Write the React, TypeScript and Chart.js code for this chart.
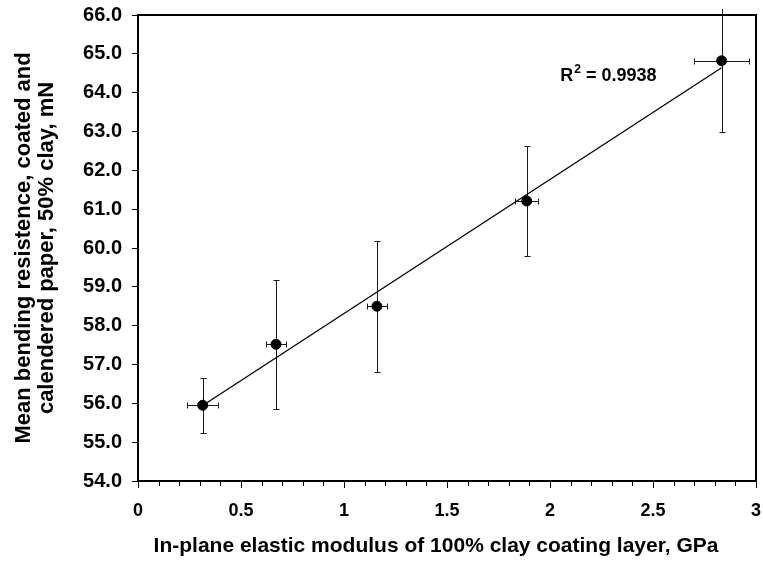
import React, { useEffect, useRef } from "react";
import { Chart, registerables } from "chart.js";

Chart.register(...registerables);

const modulusGPa = [0.314, 0.67, 1.16, 1.887, 2.833];
const bendingMN = [55.95, 57.52, 58.5, 61.21, 64.82];
const modulusErr = [0.075, 0.048, 0.049, 0.057, 0.135];
const bendingErr = [0.715, 1.66, 1.69, 1.42, 1.82];
const rSquaredLabel = "0.9938";
const rSquaredAnchor = { x: 2.05, y: 64.3 };
const xTitle = "In-plane elastic modulus of 100% clay coating layer, GPa";
const yTitle = ["Mean bending resistence, coated and", "calendered paper, 50% clay, mN"];

const FONT = "'Liberation Sans', Arial, Helvetica, sans-serif";

function linearFit(xs: number[], ys: number[]) {
  const n = xs.length;
  const mx = xs.reduce((a, b) => a + b, 0) / n;
  const my = ys.reduce((a, b) => a + b, 0) / n;
  let sxy = 0;
  let sxx = 0;
  for (let i = 0; i < n; i++) {
    sxy += (xs[i] - mx) * (ys[i] - my);
    sxx += (xs[i] - mx) * (xs[i] - mx);
  }
  const slope = sxy / sxx;
  return { slope, intercept: my - slope * mx };
}

const errorBarPlugin = {
  id: "errorBars",
  beforeDatasetsDraw(chart: any) {
    const { ctx, chartArea, scales } = chart;
    const xs = scales.x;
    const ys = scales.y;
    ctx.save();
    ctx.beginPath();
    ctx.rect(0, chartArea.top - 6, chart.width, chart.height);
    ctx.clip();
    ctx.strokeStyle = "#1a1a1a";
    ctx.lineWidth = 1;
    for (let i = 0; i < modulusGPa.length; i++) {
      const cx = Math.round(xs.getPixelForValue(modulusGPa[i])) + 0.5;
      const cy = Math.round(ys.getPixelForValue(bendingMN[i])) + 0.5;
      const yTop = Math.round(ys.getPixelForValue(bendingMN[i] + bendingErr[i])) + 0.5;
      const yBot = Math.round(ys.getPixelForValue(bendingMN[i] - bendingErr[i])) + 0.5;
      const xL = Math.round(xs.getPixelForValue(modulusGPa[i] - modulusErr[i])) + 0.5;
      const xR = Math.round(xs.getPixelForValue(modulusGPa[i] + modulusErr[i])) + 0.5;
      ctx.beginPath();
      ctx.moveTo(cx, yTop);
      ctx.lineTo(cx, yBot);
      ctx.moveTo(cx - 3, yTop);
      ctx.lineTo(cx + 3, yTop);
      ctx.moveTo(cx - 3, yBot);
      ctx.lineTo(cx + 3, yBot);
      ctx.moveTo(xL, cy);
      ctx.lineTo(xR, cy);
      ctx.moveTo(xL, cy - 3);
      ctx.lineTo(xL, cy + 3);
      ctx.moveTo(xR, cy - 3);
      ctx.lineTo(xR, cy + 3);
      ctx.stroke();
    }
    ctx.restore();
  },
  afterDraw(chart: any) {
    const { ctx, chartArea, scales } = chart;
    const xs = scales.x;
    ctx.save();
    // minor x ticks
    ctx.strokeStyle = "#000";
    ctx.lineWidth = 1;
    ctx.beginPath();
    for (let i = 0; i <= 30; i++) {
      if (i % 5 === 0) continue;
      const px = Math.round(xs.getPixelForValue(i / 10)) + 0.5;
      ctx.moveTo(px, chartArea.bottom);
      ctx.lineTo(px, chartArea.bottom + 5);
    }
    ctx.stroke();
    // top and right frame
    ctx.lineWidth = 2;
    ctx.beginPath();
    ctx.moveTo(chartArea.left, chartArea.top);
    ctx.lineTo(chartArea.right, chartArea.top);
    ctx.lineTo(chartArea.right, chartArea.bottom);
    ctx.stroke();
    // x axis title
    ctx.fillStyle = "#000";
    ctx.textAlign = "center";
    ctx.textBaseline = "middle";
    ctx.font = `bold 21px ${FONT}`;
    ctx.fillText(xTitle, (chartArea.left + chartArea.right) / 2 - 11, chartArea.bottom + 65);
    // R^2 annotation
    const ax = xs.getPixelForValue(rSquaredAnchor.x);
    const ay = scales.y.getPixelForValue(rSquaredAnchor.y);
    ctx.textBaseline = "alphabetic";
    ctx.textAlign = "left";
    ctx.font = `bold 18px ${FONT}`;
    ctx.fillText("R", ax, ay);
    const rw = ctx.measureText("R").width;
    ctx.font = `bold 12px ${FONT}`;
    ctx.fillText("2", ax + rw + 1, ay - 8);
    const sw = ctx.measureText("2").width;
    ctx.font = `bold 18px ${FONT}`;
    ctx.fillText(" = " + rSquaredLabel, ax + rw + 1 + sw, ay);
    ctx.restore();
  },
};

export default function App() {
  const ref = useRef<HTMLCanvasElement | null>(null);

  useEffect(() => {
    document.body.style.margin = "0";
    const canvas = ref.current;
    if (!canvas) return;
    const fit = linearFit(modulusGPa, bendingMN);
    const xMin = Math.min(...modulusGPa);
    const xMax = Math.max(...modulusGPa);
    const trend = [
      { x: xMin, y: fit.intercept + fit.slope * xMin },
      { x: xMax, y: fit.intercept + fit.slope * xMax },
    ];
    const points = modulusGPa.map((x, i) => ({ x, y: bendingMN[i] }));

    const chart = new Chart(canvas, {
      type: "scatter",
      data: {
        datasets: [
          {
            type: "scatter",
            data: points,
            backgroundColor: "#000",
            borderColor: "#000",
            pointRadius: 5,
            pointHoverRadius: 5,
            order: 0,
          },
          {
            type: "line",
            data: trend,
            borderColor: "#000",
            borderWidth: 1.3,
            pointRadius: 0,
            fill: false,
            order: 1,
          },
        ],
      },
      options: {
        responsive: false,
        animation: false,
        events: [],
        layout: { padding: { top: 15, right: 7, left: 0, bottom: 0 } },
        plugins: {
          legend: { display: false },
          tooltip: { enabled: false },
        },
        scales: {
          x: {
            type: "linear",
            min: 0,
            max: 3,
            afterFit(scale: any) {
              scale.height = 94;
              scale.paddingLeft = 0;
              scale.paddingRight = 0;
            },
            ticks: {
              stepSize: 0.5,
              color: "#000",
              padding: 12,
              font: { family: FONT, size: 18, weight: "bold" },
              callback: (v: any) => String(Number(v)),
            },
            grid: {
              display: true,
              drawOnChartArea: false,
              drawTicks: true,
              tickLength: 7,
              tickColor: "#000",
              tickWidth: 1,
            },
            border: { display: true, color: "#000", width: 2 },
            title: { display: false, text: xTitle },
          },
          y: {
            type: "linear",
            min: 54,
            max: 66,
            afterFit(scale: any) {
              scale.width = 138;
              scale.paddingTop = 0;
              scale.paddingBottom = 0;
            },
            ticks: {
              stepSize: 1,
              color: "#000",
              padding: 10,
              font: { family: FONT, size: 20, weight: "bold" },
              callback: (v: any) => Number(v).toFixed(1),
            },
            grid: {
              display: true,
              drawOnChartArea: false,
              drawTicks: true,
              tickLength: 6,
              tickColor: "#000",
              tickWidth: 1,
            },
            border: { display: true, color: "#000", width: 2 },
            title: {
              display: true,
              text: yTitle,
              color: "#000",
              font: { family: FONT, size: 22, weight: "bold", lineHeight: 1.05 },
              padding: { top: 12, bottom: 0 },
            },
          },
        },
      },
      plugins: [errorBarPlugin],
    });
    return () => chart.destroy();
  }, []);

  return <canvas ref={ref} width={763} height={575} style={{ display: "block" }} />;
}
